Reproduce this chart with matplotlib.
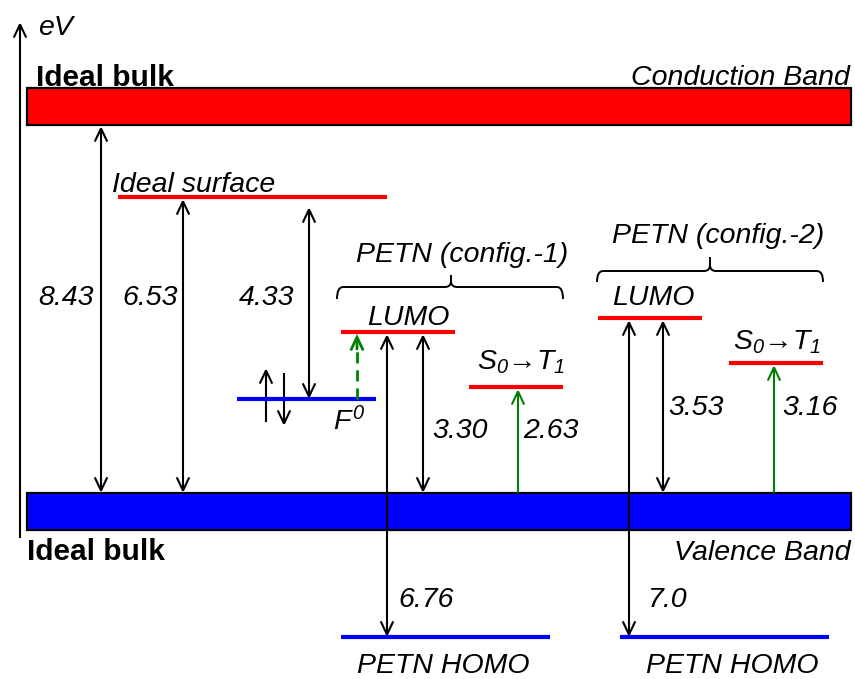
import matplotlib
matplotlib.use("Agg")
import matplotlib.pyplot as plt
from matplotlib.patches import Rectangle, FancyArrowPatch, PathPatch
from matplotlib.path import Path

plt.rcParams['font.family'] = ['Liberation Sans', 'DejaVu Sans']
plt.rcParams['mathtext.fontset'] = 'custom'
plt.rcParams['mathtext.rm'] = 'Liberation Sans:italic'
plt.rcParams['mathtext.it'] = 'Liberation Sans:italic'

# ---- energy gaps (eV) -------------------------------------------------
bulk_gap = "8.43"                      # ideal bulk CB - VB
surface_gaps = ["6.53", "4.33"]        # surface level - VB, surface level - F0
config1_gaps = ["3.30", "2.63", "6.76"]  # LUMO-VB, S0->T1, HOMO-LUMO
config2_gaps = ["3.53", "3.16", "7.0"]   # LUMO-VB, S0->T1, HOMO-LUMO

# ---- labels -------------------------------------------------------------
band_names = ["Conduction Band", "Valence Band"]
config_names = ["PETN (config.-1)", "PETN (config.-2)"]
level_names = ["LUMO", r"$S_0$→$T_1$", "PETN HOMO"]
surface_name = "Ideal surface"
bulk_name = "Ideal bulk"
defect_name = r"$F^0$"
axis_unit = "eV"

# ---- canvas -------------------------------------------------------------
W, H = 855, 679
fig = plt.figure(figsize=(W / 100, H / 100), dpi=100)
ax = fig.add_axes([0, 0, 1, 1])
ax.set_xlim(0, W)
ax.set_ylim(H, 0)
ax.axis('off')

RED, BLUE, GREEN = '#ff0000', '#0000ff', '#008000'
FS = 20.5
LVL_LW = 3.0
ARR_LW = 1.5


def arrow(x, y0, y1, style='<->', color='black', lw=ARR_LW):
    ax.add_patch(FancyArrowPatch((x, y0), (x, y1),
                                 arrowstyle=f'{style},head_length=9.5,head_width=4.5',
                                 mutation_scale=1, color=color, lw=lw,
                                 shrinkA=0, shrinkB=0, joinstyle='miter',
                                 capstyle='butt'))


def level(x0, x1, y, color):
    ax.plot([x0, x1], [y, y], color=color, lw=LVL_LW, solid_capstyle='butt')


def label(x, y, s, ha='left', **kw):
    ax.text(x, y, s, ha=ha, va='baseline', fontsize=FS, style='italic', **kw)


def brace(x0, x1, xm, y, yend, ytip, r=6):
    verts = [(x0, yend), (x0, y), (x0 + r, y),
             (xm - r, y), (xm, y), (xm, y - r),
             (xm, ytip), (xm, y - r), (xm, y), (xm + r, y),
             (x1 - r, y), (x1, y), (x1, yend)]
    codes = [Path.MOVETO, Path.CURVE3, Path.CURVE3,
             Path.LINETO, Path.CURVE3, Path.CURVE3,
             Path.LINETO, Path.MOVETO, Path.CURVE3, Path.CURVE3,
             Path.LINETO, Path.CURVE3, Path.CURVE3]
    ax.add_patch(PathPatch(Path(verts, codes), fc='none', ec='black', lw=1.4))


# energy axis
arrow(20, 538, 22, style='->')
ax.text(38, 35, axis_unit, ha='left', va='baseline', fontsize=FS, style='italic')

# ideal bulk bands
ax.add_patch(Rectangle((27, 88), 824, 37, fc=RED, ec='black', lw=1.6))
ax.add_patch(Rectangle((27, 493), 824, 37, fc=BLUE, ec='black', lw=1.6))
ax.text(36, 86, bulk_name, ha='left', va='baseline', fontsize=21.5, weight='bold')
ax.text(27, 560, bulk_name, ha='left', va='baseline', fontsize=21.5, weight='bold')
label(850, 85, band_names[0], ha='right')
label(851, 560, band_names[1], ha='right')

# bulk gap
arrow(101, 126, 493)
label(38, 305, bulk_gap)

# ideal surface level and F0 defect level
level(118, 387, 197, RED)
label(112, 192, surface_name)
arrow(183, 199, 493)
label(122, 305, surface_gaps[0])
level(237, 376, 399, BLUE)
arrow(309, 207, 399)
label(239, 305, surface_gaps[1])
arrow(266, 422, 368, style='->')
arrow(284, 373, 426, style='->')
label(333, 430, defect_name)

# PETN configuration 1
brace(337, 563, 451, 287, 299, 275)
label(462, 262, config_names[0], ha='center')
level(341, 455, 332, RED)
label(367, 325, level_names[0])
level(469, 563, 387, RED)
label(477, 370, level_names[1])
level(341, 550, 637, BLUE)
label(443, 673, level_names[2], ha='center')
ax.plot([357, 357], [399, 345], color=GREEN, lw=2.0, dashes=(4, 2.5))
arrow(357, 350, 334, style='->', color=GREEN, lw=2.0)
arrow(387, 334, 637)
label(398, 607, config1_gaps[2])
arrow(423, 334, 493)
label(432, 438, config1_gaps[0])
arrow(518, 493, 389, style='->', color=GREEN)
label(523, 438, config1_gaps[1])

# PETN configuration 2
brace(597, 823, 710, 271, 282, 257)
label(718, 243, config_names[1], ha='center')
level(598, 702, 318, RED)
label(612, 305, level_names[0])
level(729, 823, 363, RED)
label(733, 349, level_names[1])
level(620, 829, 637, BLUE)
label(732, 673, level_names[2], ha='center')
arrow(629, 320, 637)
label(647, 607, config2_gaps[2])
arrow(663, 320, 493)
label(668, 415, config2_gaps[0])
arrow(774, 493, 365, style='->', color=GREEN)
label(782, 415, config2_gaps[1])

fig.savefig('out.png', dpi=100)
